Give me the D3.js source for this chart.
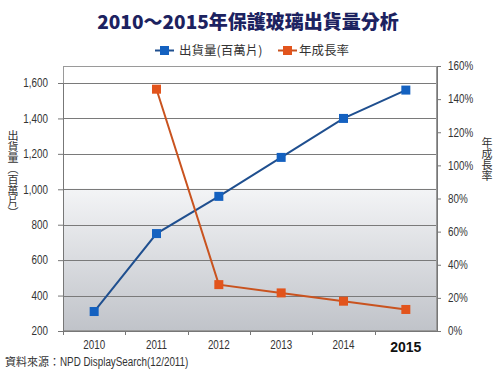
<!DOCTYPE html>
<html><head><meta charset="utf-8">
<script src="https://cdn.jsdelivr.net/npm/d3@7"></script>
<style>body{margin:0;background:#fff}svg{display:block}</style>
</head><body>
<script>
const years = ["2010","2011","2012","2013","2014","2015"];
const shipments = [310, 750, 960, 1180, 1400, 1560];
const growthYears = ["2011","2012","2013","2014","2015"];
const growth = [146, 28, 23, 18, 13];
const leftTicks = [200,400,600,800,1000,1200,1400,1600];
const rightTicks = [0,20,40,60,80,100,120,140,160];

const W=500,H=381;
const L=63,R=437,T=66,B=331;
const svg=d3.select("body").append("svg").attr("width",W).attr("height",H);
const narrow="'Liberation Sans Narrow','Arial Narrow','Liberation Sans',Arial,sans-serif";
const cjk="'Noto Sans CJK TC','Noto Sans CJK SC',sans-serif";

// detect whether a narrow font exists; if not, condense labels with textLength
const probeN=svg.append("text").attr("font-family","'Liberation Sans Narrow','Arial Narrow',monospace").attr("font-size",12).text("1,600 DisplaySearch");
const probeA=svg.append("text").attr("font-family","'Liberation Sans',Arial,sans-serif").attr("font-size",12).text("1,600 DisplaySearch");
const hasNarrow=Math.abs(probeN.node().getComputedTextLength()/probeA.node().getComputedTextLength()-0.82)<0.06;
probeN.remove();probeA.remove();
function condense(sel){
  if(hasNarrow) return;
  sel.each(function(){const w=this.getComputedTextLength();d3.select(this).attr("textLength",w*0.82).attr("lengthAdjust","spacingAndGlyphs");});
}

const defs=svg.append("defs");
const g=defs.append("linearGradient").attr("id","bg").attr("x1",0).attr("y1",0).attr("x2",0).attr("y2",1);
g.append("stop").attr("offset","0%").attr("stop-color","#ffffff");
g.append("stop").attr("offset","46%").attr("stop-color","#ffffff");
g.append("stop").attr("offset","46.5%").attr("stop-color","#f3f4f6");
g.append("stop").attr("offset","100%").attr("stop-color","#c0c3c9");

const x=d3.scaleBand().domain(years).range([L,R]);
const yL=d3.scaleLinear().domain([200,1600]).range([B,83]);
const yR=d3.scaleLinear().domain([0,160]).range([B,T]);

svg.append("rect").attr("x",L).attr("y",T).attr("width",R-L).attr("height",B-T).attr("fill","url(#bg)");

// gridlines
svg.append("g").selectAll("line").data(leftTicks.slice(1)).join("line")
 .attr("x1",L).attr("x2",R).attr("y1",d=>Math.round(yL(d))+0.5).attr("y2",d=>Math.round(yL(d))+0.5)
 .attr("stroke","#7a7a7a").attr("stroke-width",1);
// border
svg.append("rect").attr("x",L+0.5).attr("y",T+0.5).attr("width",R-L-1).attr("height",B-T-1)
 .attr("fill","none").attr("stroke","#9a9a9a");

// left axis
const axL=svg.append("g").attr("transform",`translate(${L},0)`)
 .call(d3.axisLeft(yL).tickValues(leftTicks).tickFormat(d3.format(",")).tickSizeOuter(0).tickSize(5));
axL.select(".domain").attr("stroke","#777");
axL.selectAll(".tick line").attr("stroke","#777");
axL.selectAll("text").attr("font-family",narrow).attr("font-size",12).attr("fill","#333").attr("x",-15).call(condense);

// right axis
const axR=svg.append("g").attr("transform",`translate(${R},0)`)
 .call(d3.axisRight(yR).tickValues(rightTicks).tickFormat(d=>d+"%").tickSizeOuter(0).tickSize(4));
axR.select(".domain").attr("stroke","#777");
axR.selectAll(".tick line").attr("stroke","#777");
axR.selectAll("text").attr("font-family",narrow).attr("font-size",12).attr("fill","#333").attr("x",11).call(condense);

// bottom axis
const axB=svg.append("g").attr("transform",`translate(0,${B})`)
 .call(d3.axisBottom(x).tickSize(0).tickSizeOuter(0));
axB.select(".domain").attr("stroke","#777");
axB.selectAll("text").attr("font-family",narrow).attr("font-size",12).attr("fill","#333").attr("dy","1.25em");
axB.selectAll("text").filter(d=>d!=="2015").call(condense);
axB.selectAll("text").filter(d=>d==="2015").attr("font-family","'Liberation Sans',Arial,sans-serif").attr("font-weight","bold")
 .attr("font-size",14).attr("fill","#111").attr("dy","1.3em");
svg.append("g").selectAll("line").data(years).join("line")
 .attr("x1",d=>Math.round(x(d))+0.5).attr("x2",d=>Math.round(x(d))+0.5).attr("y1",B).attr("y2",B+4).attr("stroke","#777");

// series
const cx=d=>x(d)+x.bandwidth()/2;
const blueLine="#1f4f8f", blue="#1461c0", orLine="#c9531f", orange="#e2541c";
svg.append("path").datum(shipments).attr("fill","none").attr("stroke",blueLine).attr("stroke-width",2)
 .attr("d",d3.line().x((d,i)=>cx(years[i])).y(d=>yL(d)));
svg.append("g").selectAll("rect").data(shipments).join("rect")
 .attr("x",(d,i)=>cx(years[i])-4.5).attr("y",d=>yL(d)-4.5).attr("width",9).attr("height",9).attr("fill",blue);
svg.append("path").datum(growth).attr("fill","none").attr("stroke",orLine).attr("stroke-width",2)
 .attr("d",d3.line().x((d,i)=>cx(growthYears[i])).y(d=>yR(d)));
svg.append("g").selectAll("rect").data(growth).join("rect")
 .attr("x",(d,i)=>cx(growthYears[i])-4.5).attr("y",d=>yR(d)-4.5).attr("width",9).attr("height",9).attr("fill",orange);

// title
svg.append("text").attr("x",248).attr("y",29).attr("text-anchor","middle")
 .attr("font-family",cjk).attr("font-weight","900").attr("font-size",19).attr("fill","#1c2260")
 .text("2010～2015年保護玻璃出貨量分析");

// legend
const lg=svg.append("g");
lg.append("line").attr("x1",155).attr("x2",174).attr("y1",50.5).attr("y2",50.5).attr("stroke",blueLine).attr("stroke-width",2);
lg.append("rect").attr("x",160).attr("y",46).attr("width",9).attr("height",9).attr("fill",blue);
lg.append("text").attr("x",179).attr("y",55).attr("font-family",cjk).attr("font-size",12.5).attr("fill","#333").text("出貨量(百萬片)");
lg.append("line").attr("x1",278).attr("x2",297).attr("y1",50.5).attr("y2",50.5).attr("stroke",orLine).attr("stroke-width",2);
lg.append("rect").attr("x",283).attr("y",46).attr("width",9).attr("height",9).attr("fill",orange);
lg.append("text").attr("x",299).attr("y",55).attr("font-family",cjk).attr("font-size",12.5).attr("fill","#333").text("年成長率");

// axis titles (vertical writing mode)
svg.append("text").attr("x",13).attr("y",130).style("writing-mode","vertical-rl").style("text-orientation","mixed")
 .attr("font-family",cjk).attr("font-size",11).attr("fill","#333").text("出貨量（百萬片）");
svg.append("text").attr("x",487).attr("y",137).style("writing-mode","vertical-rl").style("text-orientation","mixed")
 .attr("font-family",cjk).attr("font-size",11).attr("fill","#333").text("年成長率");

// source
const src=svg.append("text").attr("x",5).attr("y",366).attr("font-family",cjk).attr("font-size",11).attr("fill","#333");
src.append("tspan").text("資料來源：");
const srcB=src.append("tspan").attr("font-family",narrow).attr("font-size",12).text("NPD DisplaySearch(12/2011)");
condense(srcB);
</script>
</body></html>
